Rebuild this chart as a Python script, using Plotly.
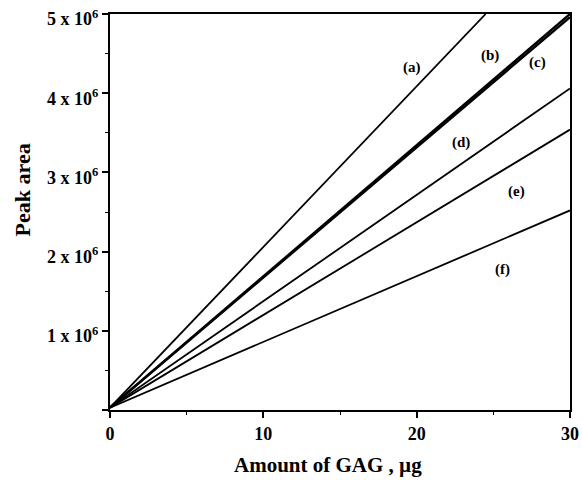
import plotly.graph_objects as go

# Data (amount of GAG in µg vs peak area)
series_names = ["(a)", "(b)", "(c)", "(d)", "(e)", "(f)"]
x_a = [0, 24.5]
y_a = [0.03e6, 5.0e6]
x_b = [0, 30]
y_b = [0.03e6, 5.0e6]
x_c = [0, 30]
y_c = [0.03e6, 4.96e6]
x_d = [0, 30]
y_d = [0.03e6, 4.06e6]
x_e = [0, 30]
y_e = [0.03e6, 3.54e6]
x_f = [0, 30]
y_f = [0.03e6, 2.52e6]

label_x = [19.7, 24.8, 27.9, 22.9, 26.5, 25.6]
label_y = [4.32e6, 4.47e6, 4.39e6, 3.38e6, 2.76e6, 1.78e6]

y_tickvals = [0, 1e6, 2e6, 3e6, 4e6, 5e6]
y_ticktext = ["", "1 x 10<sup>6</sup>", "2 x 10<sup>6</sup>", "3 x 10<sup>6</sup>",
              "4 x 10<sup>6</sup>", "5 x 10<sup>6</sup>"]
x_tickvals = [0, 10, 20, 30]
x_ticktext = ["0", "10", "20", "30"]

FONT = "Liberation Serif"

fig = go.Figure()
widths = [1.8, 2.4, 2.4, 1.8, 1.8, 1.8]
for xs, ys, w in zip([x_a, x_b, x_c, x_d, x_e, x_f],
                     [y_a, y_b, y_c, y_d, y_e, y_f], widths):
    fig.add_trace(go.Scatter(x=xs, y=ys, mode="lines",
                             line=dict(color="black", width=w),
                             showlegend=False, hoverinfo="skip",
                             cliponaxis=False))

for name, lx, ly in zip(series_names, label_x, label_y):
    fig.add_annotation(x=lx, y=ly, text="<b>" + name + "</b>", showarrow=False,
                       font=dict(family=FONT, size=15, color="black"))

fig.add_annotation(xref="paper", yref="paper", x=0.474, y=-0.138,
                   text="<b>Amount of GAG , µg</b>", showarrow=False,
                   xanchor="center", yanchor="middle",
                   font=dict(family=FONT, size=21, color="black"))
fig.add_annotation(xref="paper", yref="paper", x=-0.19, y=0.556,
                   text="<b>Peak area</b>", showarrow=False, textangle=-90,
                   xanchor="center", yanchor="middle",
                   font=dict(family=FONT, size=22, color="black"))

fig.update_layout(
    width=582, height=480,
    margin=dict(l=110, r=12, t=14, b=70),
    paper_bgcolor="white", plot_bgcolor="white",
    font=dict(family=FONT, color="black"),
    xaxis=dict(range=[0, 30], tickvals=x_tickvals, ticktext=x_ticktext,
               automargin=False,
               ticks="outside", ticklen=6, tickwidth=1.5, tickcolor="black",
               showline=True, linecolor="black", linewidth=2, mirror=True,
               showgrid=False, zeroline=False,
               tickfont=dict(family=FONT, size=18, color="black", weight="bold"),
               minor=dict(dtick=5, ticks="outside", ticklen=3, tickcolor="black", tickwidth=1)),
    yaxis=dict(range=[0, 5e6], tickvals=y_tickvals, ticktext=y_ticktext,
               automargin=False, ticklabelshift=5,
               ticks="outside", ticklen=6, tickwidth=1.5, tickcolor="black",
               showline=True, linecolor="black", linewidth=2, mirror=True,
               showgrid=False, zeroline=False,
               tickfont=dict(family=FONT, size=18, color="black", weight="bold"),
               minor=dict(dtick=0.5e6, ticks="outside", ticklen=3, tickcolor="black", tickwidth=1)),
)

fig.write_html("out.html", config={"displayModeBar": False},
               post_script="document.body.style.margin='0';")
